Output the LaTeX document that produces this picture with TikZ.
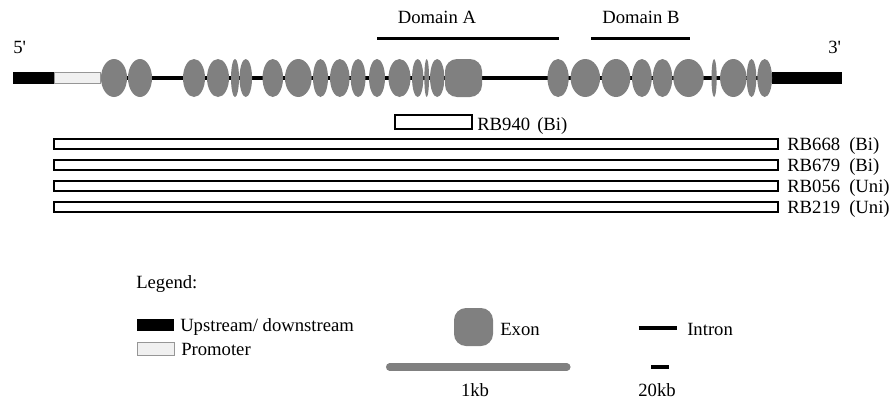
\documentclass[tikz,border=0pt]{standalone}
\usepackage{fontspec}
\setmainfont{Liberation Serif}
\usetikzlibrary{shapes.geometric}
\definecolor{exongray}{RGB}{128,128,128}
\definecolor{promfill}{RGB}{240,240,240}
\definecolor{promdraw}{RGB}{150,150,150}
\begin{document}
\begin{tikzpicture}[x=0.75pt,y=-0.75pt,
  lbl/.style={font=\fontsize{14pt}{16pt}\selectfont, inner sep=0pt, anchor=base west},
  exon/.style={ellipse, fill=exongray, inner sep=0pt, minimum height=28.5pt},
  exonbox/.style={rectangle, rounded corners=9pt, fill=exongray, inner sep=0pt, minimum height=28.5pt},
  flank/.style={rectangle, fill=black, inner sep=0pt, minimum height=9pt},
  promo/.style={rectangle, fill=promfill, draw=promdraw, line width=0.9pt, inner sep=0pt},
  intron/.style={line width=2.6pt, black},
  domline/.style={line width=1.6pt, black},
  clone/.style={rectangle, draw=black, fill=white, line width=1.6pt, inner sep=0pt}]
\useasboundingbox (0,0) rectangle (893,400);

% ends and promoter
\node[flank, minimum width=41*0.75pt] (up5) at (33.5,78) {};
\node[promo, minimum width=46*0.75pt, minimum height=11*0.75pt] (prom) at (77.5,78) {};
\node[flank, minimum width=70*0.75pt] (down3) at (807,78) {};
\draw[intron] (prom.east) -- (down3.west);

% exons
\foreach \n/\c/\w in {1/114/26, 2/140/24, 3/194/22, 4/218/22, 5/235/8, 6/245.8/12.5,
  7/272.8/20.5, 8/298.3/26.7, 9/320.5/15, 10/339.8/19.5, 11/358.1/14.8, 12/377/16,
  13/399.5/22, 14/417.7/11.3, 15/426.7/4.7, 16/437.2/14.3, 18/558.1/21.2,
  19/585.3/29.5, 20/616/28.6, 21/641.9/19.7, 22/662.5/19.6, 23/688.5/30.4,
  24/714.1/5.2, 25/733.3/26.5, 26/751.5/9.6, 27/764.7/14.7}
  \node[exon, minimum width=\w*0.75pt] (e\n) at (\c,78) {};
\node[exonbox, minimum width=37*0.75pt] (e17) at (463.5,78) {};

% labels 5' 3'
\node[lbl] (five) at (13,53) {5\textquotesingle};
\node[lbl] (three) at (828,53) {3\textquotesingle};

% domains
\node[lbl, anchor=base] (domA) at (437,23) {Domain A};
\node[lbl, anchor=base] (domB) at (641,23) {Domain B};
\coordinate (da1) at (377,38.5);
\coordinate (da2) at (559,38.5);
\coordinate (db1) at (591,38.5);
\coordinate (db2) at (690,38.5);
\draw[domline] (da1) -- (da2);
\draw[domline] (db1) -- (db2);

% clones
\node[clone, minimum width=77*0.75pt, minimum height=14*0.75pt] (rb940) at (433.5,122) {};
\node[lbl] (rb940l) at (477,130) {RB940};
\node[lbl] (rb940t) at (537,130) {(Bi)};

\foreach \nm/\y/\t in {RB668/143.8/(Bi), RB679/164.8/(Bi), RB056/185.8/(Uni), RB219/206.8/(Uni)}{
  \node[clone, minimum width=724*0.75pt, minimum height=10*0.75pt] (\nm) at (416,\y) {};
  \node[lbl] (\nm l) at (787,\y+6.3) {\nm};
  \node[lbl] (\nm t) at (849,\y+6.3) {\t};
}

% legend
\node[lbl] (leg) at (136,288) {Legend:};
\node[flank, minimum width=37.6*0.75pt, minimum height=11.7*0.75pt] (legup) at (155.5,325.2) {};
\node[lbl] (legupt) at (180,331.5) {Upstream/ downstream};
\node[promo, minimum width=37*0.75pt, minimum height=12.4*0.75pt] (legpr) at (155.8,349) {};
\node[lbl] (legprt) at (181,355) {Promoter};

\node[exonbox, minimum width=39*0.75pt, minimum height=38*0.75pt] (legex) at (473.5,327) {};
\node[lbl] (legext) at (500,335) {Exon};

\coordinate (li1) at (638.5,327.7);
\coordinate (li2) at (676.5,327.7);
\draw[line width=3pt] (li1) -- (li2);
\node[lbl] (legint) at (687,335) {Intron};

\coordinate (kb1) at (389.5,367);
\coordinate (kb2) at (567,367);
\draw[line width=5.3pt, exongray, line cap=round] (kb1) -- (kb2);
\node[lbl, anchor=base] (kbl) at (475,396) {1kb};

\coordinate (k20a) at (651,366.7);
\coordinate (k20b) at (669,366.7);
\draw[line width=3pt] (k20a) -- (k20b);
\node[lbl, anchor=base] (k20l) at (657,396) {20kb};
\end{tikzpicture}
\end{document}
